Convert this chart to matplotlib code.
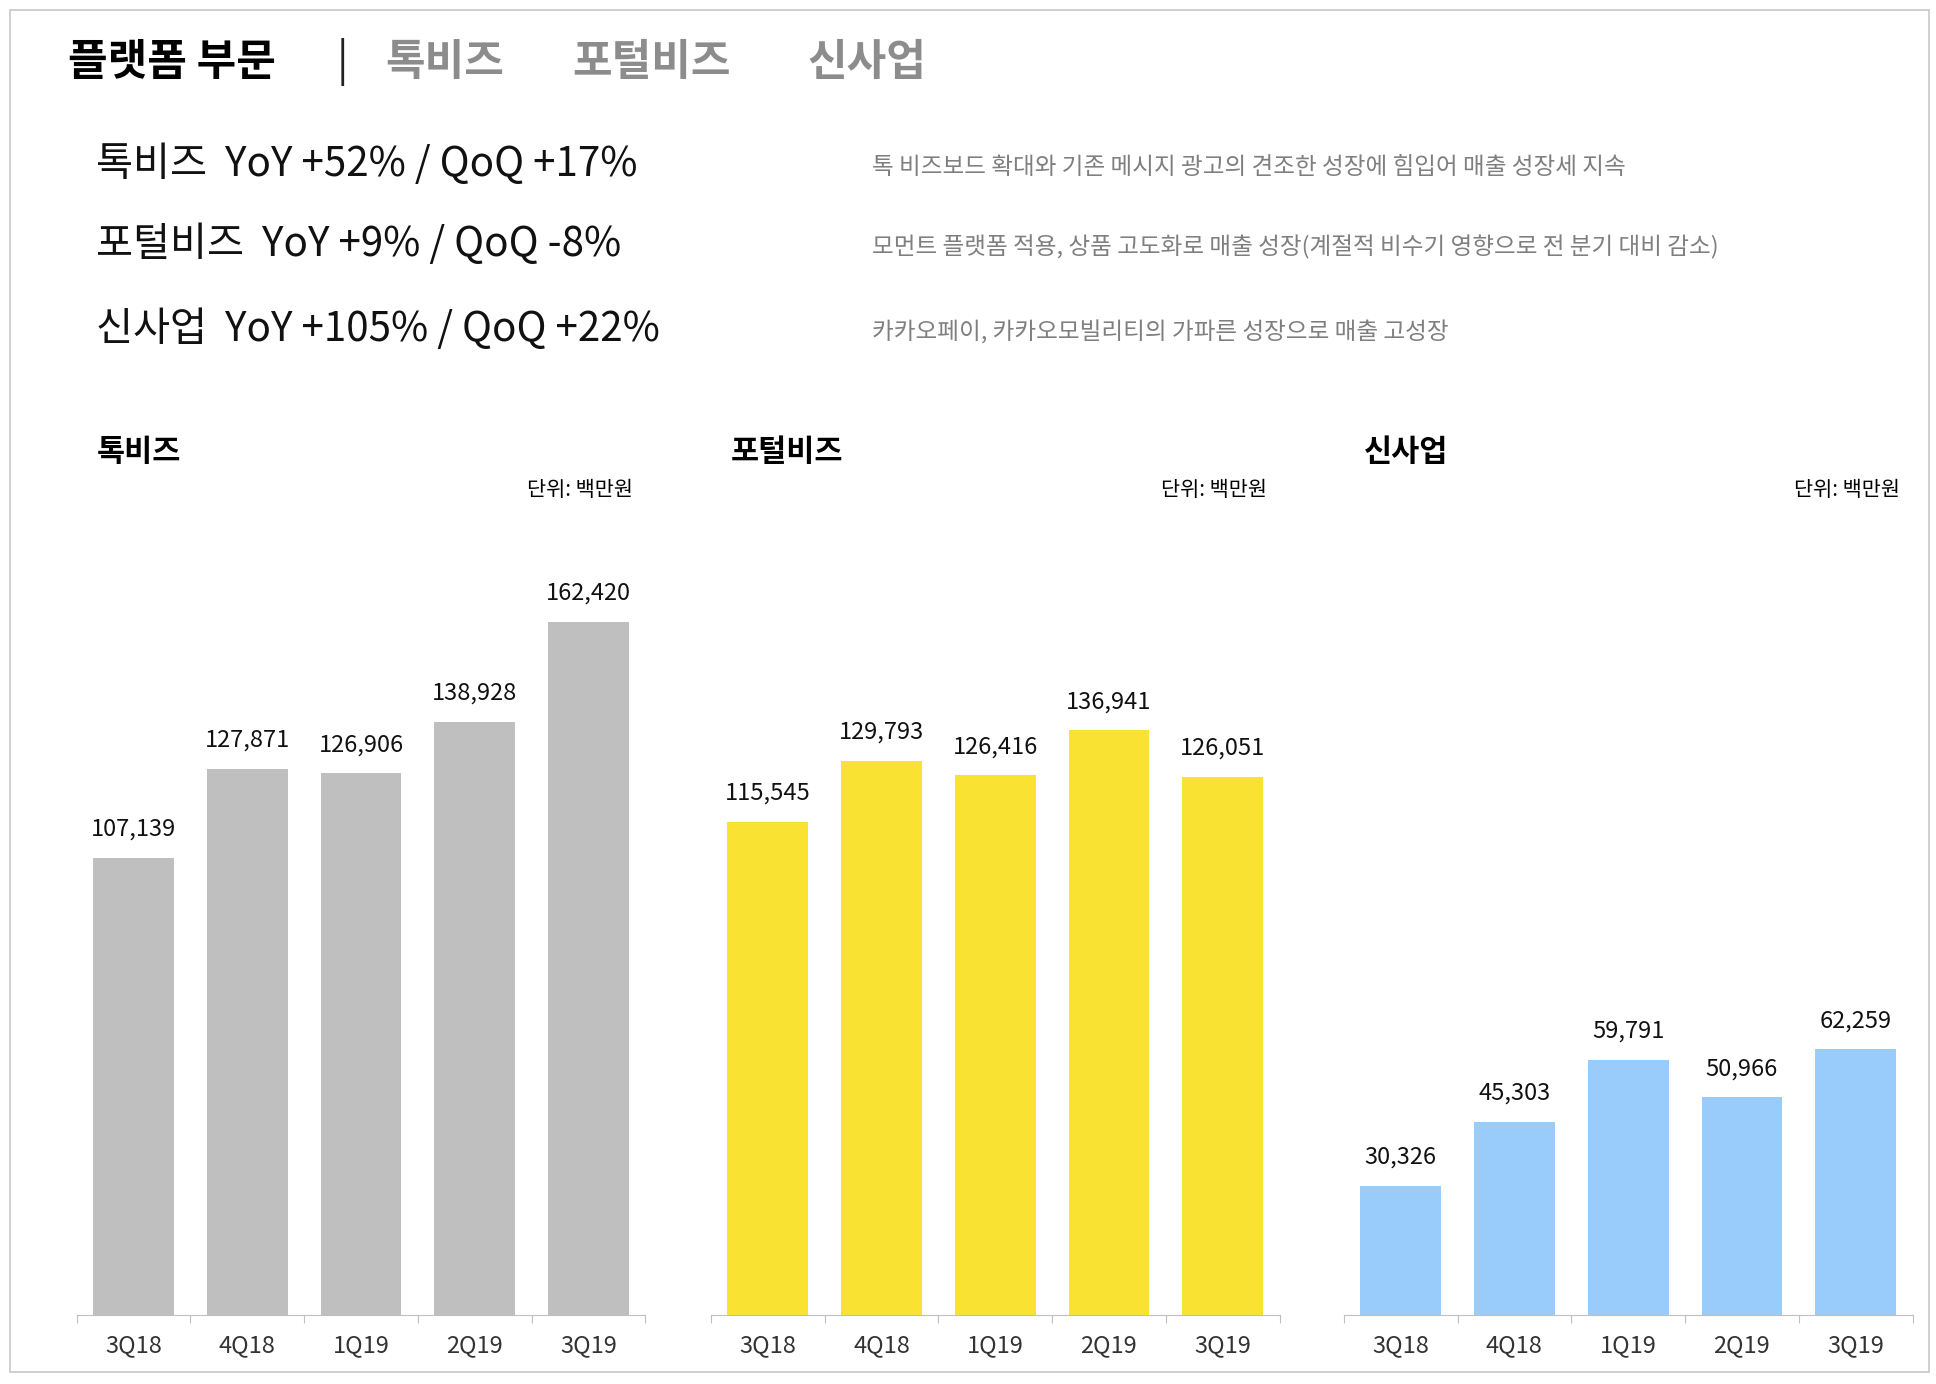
import matplotlib
matplotlib.use("Agg")
from matplotlib import pyplot as plt
from matplotlib.patches import Rectangle

plt.rcParams['font.family'] = ['Noto Sans CJK KR', 'DejaVu Sans']

quarters = ["3Q18", "4Q18", "1Q19", "2Q19", "3Q19"]
talkbiz = [107139, 127871, 126906, 138928, 162420]
portalbiz = [115545, 129793, 126416, 136941, 126051]
newbiz = [30326, 45303, 59791, 50966, 62259]

panel_names = ["톡비즈", "포털비즈", "신사업"]
panel_colors = ["#bfbfbf", "#f9e231", "#99ccfa"]
headlines = ["톡비즈  YoY +52% / QoQ +17%",
             "포털비즈  YoY +9% / QoQ -8%",
             "신사업  YoY +105% / QoQ +22%"]
notes = ["톡 비즈보드 확대와 기존 메시지 광고의 견조한 성장에 힘입어 매출 성장세 지속",
         "모먼트 플랫폼 적용, 상품 고도화로 매출 성장(계절적 비수기 영향으로 전 분기 대비 감소)",
         "카카오페이, 카카오모빌리티의 가파른 성장으로 매출 고성장"]

W, H = 1566.0, 1124.0
def fx(x): return x / W
def fy(y): return 1 - y / H

fig = plt.figure(figsize=(19.36, 13.84), dpi=100)
fig.patches.append(Rectangle((fx(8), fy(1114)), fx(1552), (1106) / H, transform=fig.transFigure,
                             fill=False, edgecolor="#c8c8c8", linewidth=1.2))

fig.text(fx(55), fy(50), "플랫폼 부문", fontsize=31, fontweight="bold", va="center")
fig.text(fx(272), fy(50), "|", fontsize=31, va="center", color="#222222")
fig.text(fx(312), fy(50), "톡비즈", fontsize=31, fontweight="bold", va="center", color="#8c8c8c")
fig.text(fx(463), fy(50), "포털비즈", fontsize=31, fontweight="bold", va="center", color="#8c8c8c")
fig.text(fx(653), fy(50), "신사업", fontsize=31, fontweight="bold", va="center", color="#8c8c8c")

for i, y in enumerate([133, 198, 267]):
    fig.text(fx(78), fy(y), headlines[i], fontsize=29, va="center", color="#111111")
    fig.text(fx(705), fy(y + 3), notes[i], fontsize=17, va="center", color="#7f7f7f")

lefts = [62, 575, 1087]
series = [talkbiz, portalbiz, newbiz]
for k in range(3):
    x0 = lefts[k]
    ax = fig.add_axes([fx(x0), fy(1068), 460 / W, (1068 - 430) / H])
    vals = series[k]
    bars = ax.bar(range(5), vals, width=0.71, color=panel_colors[k])
    for b, v in zip(bars, vals):
        ax.text(b.get_x() + b.get_width() / 2, v + 4000, f"{v:,}", ha="center", va="bottom",
                fontsize=17, color="#111111")
    ax.set_xlim(-0.5, 4.5)
    ax.set_ylim(0, 184000)
    ax.set_yticks([])
    for s in ["top", "left", "right"]:
        ax.spines[s].set_visible(False)
    ax.spines["bottom"].set_color("#bfbfbf")
    ax.set_xticks([i - 0.5 for i in range(6)], minor=False)
    ax.set_xticklabels([])
    ax.tick_params(axis="x", length=6, color="#bfbfbf")
    for i, q in enumerate(quarters):
        ax.text(i, -0.025, q, transform=ax.get_xaxis_transform(), ha="center", va="top",
                fontsize=17, color="#333333")
    fig.text(fx(x0 + 16), fy(367), panel_names[k], fontsize=22, fontweight="bold", va="center")
    fig.text(fx(x0 + 450), fy(398), "단위: 백만원", fontsize=15, ha="right", va="center")

plt.savefig("out.png")
plt.close()
